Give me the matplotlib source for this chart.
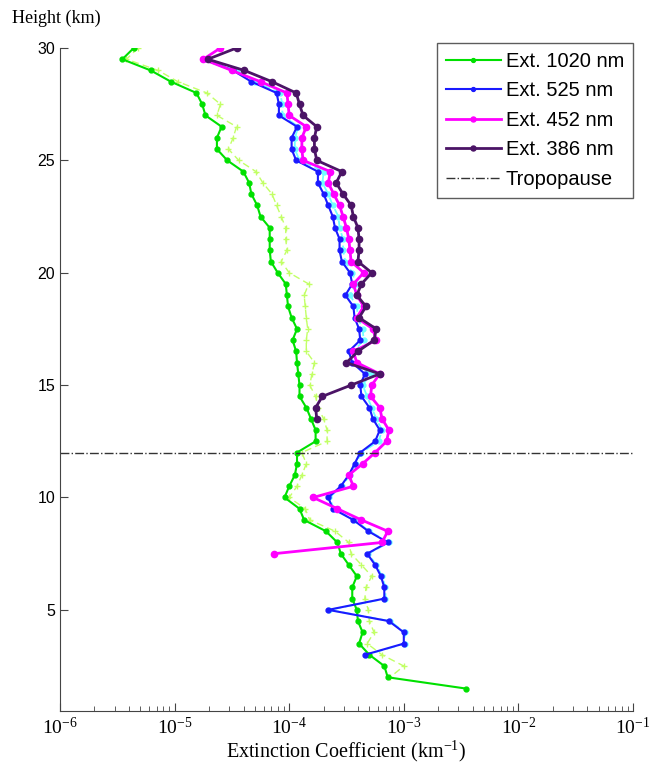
import matplotlib
matplotlib.use('Agg')
import matplotlib.pyplot as plt
from matplotlib.ticker import NullFormatter, LogLocator

# heights (km), 0.5 km grid from 30 km downwards
heights = [30.0, 29.5, 29.0, 28.5, 28.0, 27.5, 27.0, 26.5, 26.0, 25.5,
           25.0, 24.5, 24.0, 23.5, 23.0, 22.5, 22.0, 21.5, 21.0, 20.5,
           20.0, 19.5, 19.0, 18.5, 18.0, 17.5, 17.0, 16.5, 16.0, 15.5,
           15.0, 14.5, 14.0, 13.5, 13.0, 12.5, 12.0, 11.5, 11.0, 10.5,
           10.0, 9.5, 9.0, 8.5, 8.0, 7.5, 7.0, 6.5, 6.0, 5.5,
           5.0, 4.5, 4.0, 3.5, 3.0, 2.5, 2.0, 1.5]

# extinction, km^-1
ext_1020 = [4.4e-6, 3.5e-6, 6.2e-6, 9.3e-6, 1.55e-5, 1.74e-5, 1.86e-5, 2.57e-5, 2.34e-5, 2.34e-5,
            2.88e-5, 3.98e-5, 4.47e-5, 4.68e-5, 5.25e-5, 5.62e-5, 6.76e-5, 6.76e-5, 6.76e-5, 6.92e-5,
            7.94e-5, 9.33e-5, 9.55e-5, 9.77e-5, 1.05e-4, 1.17e-4, 1.07e-4, 1.15e-4, 1.17e-4, 1.20e-4,
            1.23e-4, 1.23e-4, 1.41e-4, 1.55e-4, 1.70e-4, 1.70e-4, 1.17e-4, 1.17e-4, 1.12e-4, 1.00e-4,
            9.1e-5, 1.23e-4, 1.35e-4, 2.09e-4, 2.63e-4, 2.82e-4, 3.31e-4, 3.89e-4, 3.55e-4, 3.55e-4,
            3.89e-4, 3.98e-4, 4.37e-4, 4.07e-4, 5.01e-4, 6.76e-4, 7.24e-4, 3.47e-3]

ext_1020b = [4.8e-6, 3.8e-6, 7.2e-6, 1.07e-5, 1.91e-5, 2.51e-5, 2.34e-5, 3.47e-5, 3.24e-5, 2.95e-5,
             3.63e-5, 5.13e-5, 5.89e-5, 7.08e-5, 7.76e-5, 8.51e-5, 9.33e-5, 9.33e-5, 9.55e-5, 8.51e-5,
             1.0e-4, 1.48e-4, 1.35e-4, 1.38e-4, 1.41e-4, 1.45e-4, 1.41e-4, 1.41e-4, 1.66e-4, 1.58e-4,
             1.51e-4, 1.70e-4, 1.78e-4, 2.0e-4, 2.14e-4, 2.14e-4, 1.29e-4, 1.41e-4, 1.29e-4, 1.17e-4,
             1.0e-4, 1.38e-4, 1.51e-4, 2.51e-4, 3.31e-4, 3.47e-4, 4.27e-4, 5.25e-4, 4.68e-4, 4.57e-4,
             4.90e-4, 5.01e-4, 5.50e-4, 4.79e-4, 6.46e-4, 1.0e-3, 7.59e-4]

# 525 nm starts at 29.5 km
ext_525 = [1.78e-5, 3.24e-5, 4.68e-5, 7.76e-5, 8.13e-5, 8.13e-5, 1.17e-4, 1.05e-4, 1.05e-4,
           1.15e-4, 1.78e-4, 1.78e-4, 2.0e-4, 2.19e-4, 2.40e-4, 2.51e-4, 2.75e-4, 2.75e-4, 2.88e-4,
           3.39e-4, 3.55e-4, 3.09e-4, 3.63e-4, 3.72e-4, 4.07e-4, 4.17e-4, 3.31e-4, 3.55e-4, 4.57e-4,
           4.17e-4, 4.27e-4, 5.01e-4, 5.37e-4, 6.17e-4, 5.62e-4, 4.17e-4, 3.72e-4, 3.31e-4, 2.82e-4,
           2.19e-4, 2.40e-4, 3.63e-4, 4.90e-4, 7.24e-4, 4.79e-4, 5.62e-4, 6.31e-4, 6.76e-4, 6.76e-4,
           2.19e-4, 7.41e-4, 1.0e-3, 1.0e-3, 4.57e-4]

ext_525b = [1.82e-5, 3.47e-5, 5.01e-5, 8.32e-5, 8.71e-5, 8.71e-5, 1.20e-4, 1.12e-4, 1.12e-4,
            1.23e-4, 2.0e-4, 1.95e-4, 2.19e-4, 2.40e-4, 2.69e-4, 2.75e-4, 2.95e-4, 2.95e-4, 3.09e-4,
            3.55e-4, 3.80e-4, 3.39e-4, 3.89e-4, 3.98e-4, 4.37e-4, 4.47e-4, 3.63e-4, 3.80e-4, 5.13e-4,
            4.37e-4, 4.79e-4, 5.25e-4, 5.75e-4, 6.46e-4, 6.03e-4, 4.27e-4, 3.80e-4, 3.39e-4, 2.88e-4,
            2.24e-4, 2.45e-4, 3.72e-4, 5.01e-4, 7.41e-4, 4.90e-4, 5.75e-4, 6.46e-4, 6.92e-4, 6.92e-4,
            2.24e-4, 7.59e-4, 1.02e-3, 1.02e-3, 4.68e-4]

ext_452 = [2.51e-5, 1.78e-5, 3.16e-5, 5.62e-5, 9.55e-5, 9.77e-5, 1.0e-4, 1.41e-4, 1.29e-4, 1.29e-4,
           1.32e-4, 2.29e-4, 2.19e-4, 2.45e-4, 2.75e-4, 2.95e-4, 3.16e-4, 3.31e-4, 3.39e-4, 3.47e-4,
           4.47e-4, 3.63e-4, 3.89e-4, 4.47e-4, 3.89e-4, 5.37e-4, 5.75e-4, 3.63e-4, 3.89e-4, 6.17e-4,
           5.25e-4, 5.13e-4, 6.17e-4, 6.46e-4, 7.41e-4, 7.08e-4, 5.62e-4, 4.37e-4, 3.31e-4, 3.63e-4,
           1.62e-4, 2.63e-4, 4.27e-4, 7.24e-4, 6.46e-4, 7.4e-5]

ext_386 = [3.47e-5, 1.95e-5, 4.07e-5, 7.08e-5, 1.15e-4, 1.23e-4, 1.32e-4, 1.74e-4, 1.66e-4, 1.66e-4,
           1.74e-4, 2.88e-4, 2.57e-4, 2.95e-4, 3.47e-4, 3.63e-4, 3.98e-4, 4.07e-4, 4.07e-4, 3.98e-4,
           5.25e-4, 4.27e-4, 3.89e-4, 4.68e-4, 4.07e-4, 5.75e-4, 5.50e-4, 3.98e-4, 3.16e-4, 6.17e-4,
           3.47e-4, 1.95e-4, 1.70e-4, 1.74e-4]

tropopause = 12.0

x_ticks = [1e-6, 1e-5, 1e-4, 1e-3, 1e-2, 1e-1]
x_labels = [r'$\mathdefault{10^{-6}}$', r'$\mathdefault{10^{-5}}$', r'$\mathdefault{10^{-4}}$',
            r'$\mathdefault{10^{-3}}$', r'$\mathdefault{10^{-2}}$', r'$\mathdefault{10^{-1}}$']
y_ticks = [5, 10, 15, 20, 25, 30]

fig = plt.figure(figsize=(6.52, 7.66), dpi=100)
ax = fig.add_axes([60 / 652, 55 / 766, 573 / 652, 663 / 766])

ax.plot(ext_1020b, heights[:len(ext_1020b)], color='#c2ff66', lw=1.0, ls=(0, (5, 3)),
        marker='+', ms=5, mew=1.0)
ax.plot(ext_525b, heights[1:1 + len(ext_525b)], color='#70ffff', lw=1.3, ls=(0, (5, 2)),
        marker='o', ms=3.5)
ax.plot(ext_1020, heights[:len(ext_1020)], color='#00e000', lw=1.5, marker='o', ms=3.5,
        label='Ext. 1020 nm')
ax.plot(ext_525, heights[1:1 + len(ext_525)], color='#1a1aff', lw=1.5, marker='o', ms=3.5,
        label='Ext. 525 nm')
ax.plot(ext_452, heights[:len(ext_452)], color='#ff00ff', lw=2.0, marker='o', ms=4.5,
        label='Ext. 452 nm')
ax.plot(ext_386, heights[:len(ext_386)], color='#4b1466', lw=2.0, marker='o', ms=4.5,
        label='Ext. 386 nm')
ax.axhline(tropopause, color='#333333', lw=1.0, ls='-.', label='Tropopause')

ax.set_xscale('log')
ax.set_xlim(1e-6, 1e-1)
ax.set_ylim(0.5, 30)

ax.set_xticks(x_ticks, labels=x_labels, fontfamily='Liberation Serif', fontsize=14)
ax.xaxis.set_minor_locator(LogLocator(base=10, subs=range(2, 10), numticks=20))
ax.xaxis.set_minor_formatter(NullFormatter())
ax.set_yticks(y_ticks, labels=[str(v) for v in y_ticks], fontfamily='Liberation Sans', fontsize=11.5)

ax.tick_params(which='both', direction='in', color='#444444')
ax.tick_params(which='major', length=6)
ax.tick_params(which='minor', length=3.5)
ax.tick_params(axis='x', pad=4)
for s in ['top', 'right']:
    ax.spines[s].set_visible(False)
for s in ['left', 'bottom']:
    ax.spines[s].set_color('#444444')

fig.text(12 / 652, 1 - 18 / 766, 'Height (km)', fontfamily='Liberation Serif', fontsize=13,
         ha='left', va='center')
fig.text(346.5 / 652, 1 - 751 / 766, r'Extinction Coefficient (km$^{\mathdefault{-1}}$)',
         fontfamily='Liberation Serif', fontsize=14.5, ha='center', va='center')

leg = ax.legend(loc='upper right', bbox_to_anchor=(1.0, 1.008), borderaxespad=0,
                prop={'family': 'Liberation Sans', 'size': 14.5}, handlelength=2.7,
                handletextpad=0.25, labelspacing=0.52, borderpad=0.45, fancybox=False,
                markerscale=0.8)
leg.get_frame().set_edgecolor('#333333')
leg.get_frame().set_linewidth(1.0)

fig.savefig('out.png', dpi=100)
